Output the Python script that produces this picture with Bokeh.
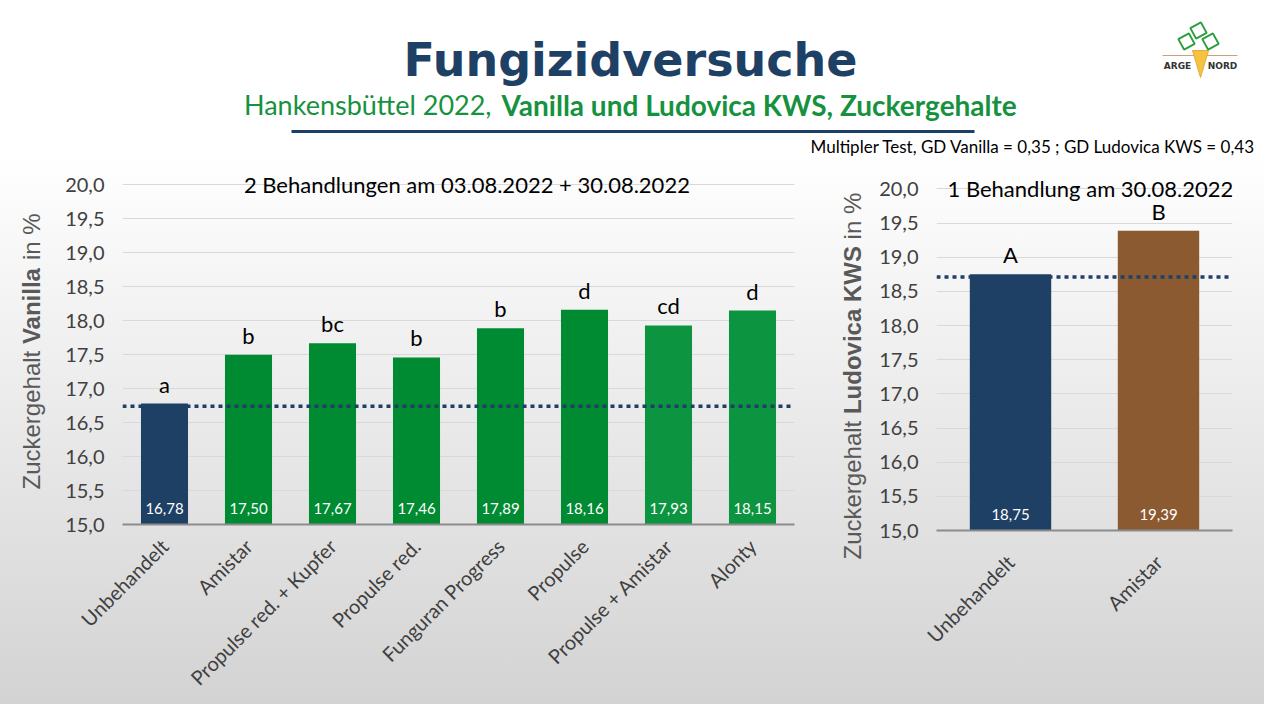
from math import pi

from bokeh.core.properties import value
from bokeh.embed import file_html
from bokeh.layouts import column, row
from bokeh.models import CustomJSTickFormatter, FactorRange, FixedTicker, Label, Range1d, Span
from bokeh.plotting import figure
from bokeh.resources import INLINE

# --- data -------------------------------------------------------------------
vanilla_labels = ["Unbehandelt", "Amistar", "Propulse red. + Kupfer", "Propulse red.",
                  "Funguran Progress", "Propulse", "Propulse + Amistar", "Alonty"]
vanilla_values = [16.78, 17.50, 17.67, 17.46, 17.89, 18.16, 17.93, 18.15]
vanilla_letters = ["a", "b", "bc", "b", "b", "d", "cd", "d"]
vanilla_colors = ["#1f4065", "#008a32", "#008a32", "#008a32", "#008a32", "#008a32",
                  "#0d9440", "#0d9440"]
vanilla_ref = 16.74

ludovica_labels = ["Unbehandelt", "Amistar"]
ludovica_values = [18.75, 19.39]
ludovica_letters = ["A", "B"]
ludovica_colors = ["#1f4065", "#8b5a30"]
ludovica_ref = 18.71

y_ticks = [15.0, 15.5, 16.0, 16.5, 17.0, 17.5, 18.0, 18.5, 19.0, 19.5, 20.0]

NAVY = "#1f4065"
GREEN = "#16923e"
FONT = "Lato"
H = 542  # height of the chart row


def no_align(p):
    # keep every plot's own borders instead of lining the frames up in the row
    try:
        p.frame_align = False
    except AttributeError:
        pass
    return p


def bare(width, height):
    p = figure(width=width, height=height, x_range=Range1d(0, width), y_range=Range1d(0, height),
               toolbar_location=None, output_backend="svg", min_border=0)
    p.axis.visible = False
    p.grid.grid_line_color = None
    p.outline_line_color = None
    p.background_fill_alpha = 0
    p.border_fill_alpha = 0
    return no_align(p)


def axis_title(width, parts, x, starts):
    # rotated y axis title with a bold part
    p = bare(width, H)
    for (txt, bold), y in zip(parts, starts):
        p.text(x=[x], y=[y], text=[txt], angle=pi / 2, text_align="left", text_baseline="middle",
               text_font=value("Liberation Sans"), text_font_size="24px", text_color="#595959",
               text_font_style="bold" if bold else "normal")
    return p


def chart(labels, values, letters, colors, ref, title, title_x,
          width, left, right, top, bottom, bar_width, standoff):
    p = figure(width=width, height=H, x_range=FactorRange(factors=labels, range_padding=0),
               y_range=Range1d(15, 20.3), toolbar_location=None, output_backend="svg",
               min_border_left=left, min_border_right=right, min_border_top=top,
               min_border_bottom=bottom)
    no_align(p)
    p.background_fill_alpha = 0
    p.border_fill_alpha = 0
    p.outline_line_color = None

    p.vbar(x=labels, top=values, bottom=15, width=bar_width, fill_color=colors, line_color=None)
    p.add_layout(Span(location=ref, dimension="width", line_color=NAVY, line_width=3.5,
                      line_dash="4 4"))

    texts = [f"{v:.2f}".replace(".", ",") for v in values]
    p.text(x=labels, y=[15] * len(values), text=texts, text_align="center",
           text_baseline="middle", y_offset=-16, text_color="white",
           text_font=value(FONT), text_font_size="15px")
    p.text(x=labels, y=values, text=letters, text_align="center", text_baseline="bottom",
           y_offset=-6, text_color="black", text_font=value(FONT), text_font_size="22px")

    p.add_layout(Label(x=title_x, y=20.0, text=title, text_align="center",
                       text_baseline="middle", text_font=FONT, text_font_size="22px",
                       text_color="black"))

    p.xgrid.grid_line_color = None
    p.ygrid.grid_line_color = "#d9d9d9"
    p.ygrid.ticker = FixedTicker(ticks=y_ticks)

    p.yaxis.ticker = FixedTicker(ticks=y_ticks)
    p.yaxis.formatter = CustomJSTickFormatter(code="return tick.toFixed(1).replace('.', ',');")
    p.yaxis.axis_line_color = None
    p.yaxis.major_tick_line_color = None
    p.yaxis.minor_tick_line_color = None
    p.yaxis.major_tick_out = 0
    p.yaxis.major_label_standoff = 18
    p.yaxis.major_label_text_font = FONT
    p.yaxis.major_label_text_font_size = "20px"
    p.yaxis.major_label_text_color = "#404040"

    p.xaxis.axis_line_color = "#8c8c8c"
    p.xaxis.axis_line_width = 2
    p.xaxis.major_tick_line_color = None
    p.xaxis.major_tick_out = 0
    p.xaxis.major_label_standoff = standoff
    p.xaxis.major_label_orientation = pi / 4
    p.xaxis.major_label_text_font = FONT
    p.xaxis.major_label_text_font_size = "20px"
    p.xaxis.major_label_text_color = "#404040"
    return p


left_title = axis_title(50, [("Zuckergehalt", False), ("Vanilla", True), ("in %", False)],
                        31, [215, 360.4, 444.5])
left = chart(vanilla_labels, vanilla_values, vanilla_letters, vanilla_colors, vanilla_ref,
             "2 Behandlungen am 03.08.2022 + 30.08.2022", 4.1,
             width=764, left=72, right=20, top=2, bottom=180, bar_width=0.56, standoff=18)

right_title = axis_title(56, [("Zuckergehalt", False), ("Ludovica KWS", True), ("in %", False)],
                         38, [145, 290.4, 465.1])
right = chart(ludovica_labels, ludovica_values, ludovica_letters, ludovica_colors, ludovica_ref,
              "1 Behandlung am 30.08.2022", 1.04,
              width=394, left=66, right=32, top=6, bottom=174, bar_width=0.55, standoff=28)

# --- header -------------------------------------------------------------------
head = bare(1264, 162)

head.add_layout(Label(x=630, y=103, text="Fungizidversuche", text_align="center",
                      text_baseline="middle", text_font="DejaVu Sans",
                      text_font_style="bold", text_font_size="46px", text_color=NAVY))
head.add_layout(Label(x=491, y=58, text="Hankensbüttel 2022,", text_align="right",
                      text_baseline="middle", text_font=FONT, text_font_size="27px",
                      text_color=GREEN))
head.add_layout(Label(x=501, y=58, text="Vanilla und Ludovica KWS, Zuckergehalte",
                      text_align="left", text_baseline="middle", text_font=FONT,
                      text_font_style="bold", text_font_size="28px", text_color=GREEN))
head.line(x=[291, 974], y=[31, 31], line_color=NAVY, line_width=3)
head.add_layout(Label(x=1255, y=16, text="Multipler Test, GD Vanilla = 0,35 ; GD Ludovica KWS = 0,43",
                      text_align="right", text_baseline="middle", text_font=FONT,
                      text_font_size="17px", text_color="black"))

# small logo
head.line(x=[1162, 1237], y=[107, 107], line_color="#c8a27a", line_width=1)
head.patch(x=[1192, 1208, 1200], y=[112, 112, 85], fill_color="#f5c242", line_color="#e8a93a")
head.scatter(x=[1186, 1198, 1210], y=[121, 132, 121], marker="square", size=12, angle=0.5,
             fill_color=None, line_color="#2e9e3e", line_width=2)
head.add_layout(Label(x=1177, y=97, text="ARGE", text_align="center", text_baseline="middle",
                      text_font="DejaVu Sans", text_font_style="bold", text_font_size="9px",
                      text_color="#333333"))
head.add_layout(Label(x=1222, y=97, text="NORD", text_align="center", text_baseline="middle",
                      text_font="DejaVu Sans", text_font_style="bold", text_font_size="9px",
                      text_color="#333333"))

page = column(head, row(left_title, left, right_title, right),
              styles={"background": "linear-gradient(to bottom, #ffffff 0%, #ffffff 22%, #d3d3d3 100%)"})

open("out.html", "w").write(file_html(page, INLINE))
